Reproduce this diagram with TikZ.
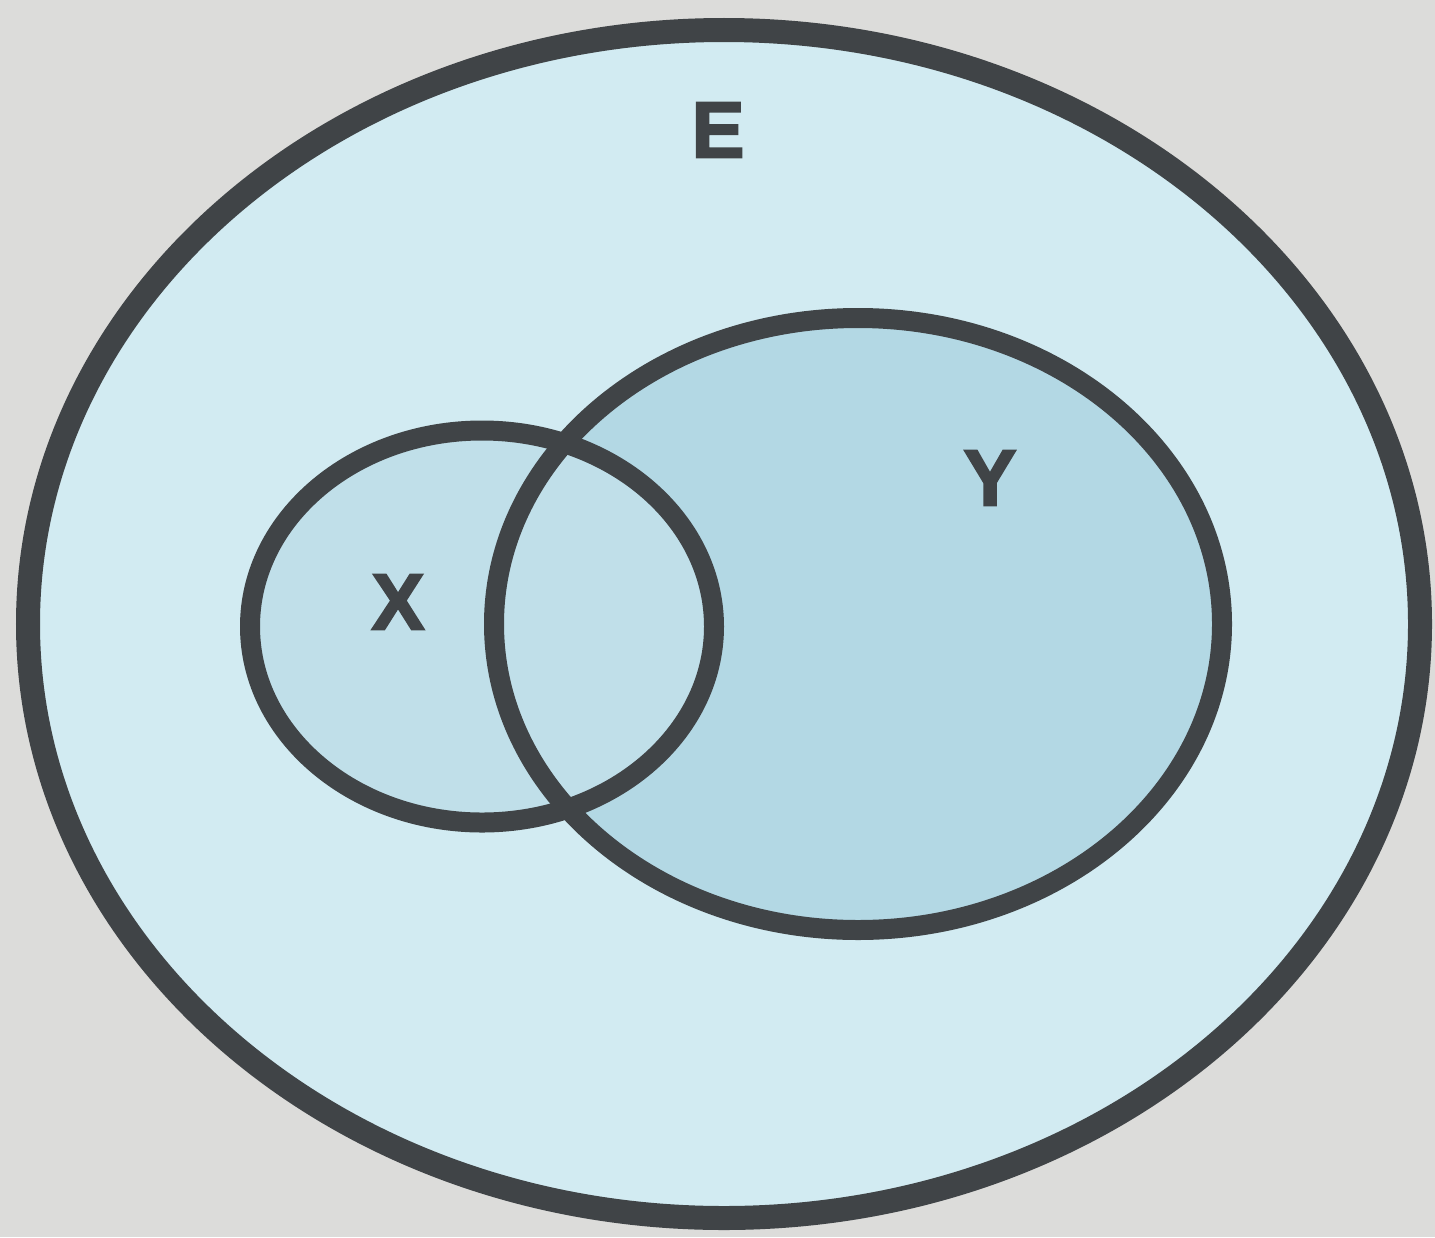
\documentclass[tikz,border=0pt]{standalone}
\usepackage{fontspec}
\setmainfont{Liberation Sans}
\newfontfamily\lblfont[FakeBold=2.5]{Liberation Sans}
\definecolor{paper}{HTML}{DCDCDA}
\definecolor{setE}{HTML}{D2EBF2}
\definecolor{setX}{HTML}{C0DFE9}
\definecolor{setY}{HTML}{B3D8E4}
\definecolor{ink}{HTML}{404447}
\begin{document}
\begin{tikzpicture}[font=\lblfont\fontsize{22.6}{27}\selectfont\bfseries,
  lbl/.style={text=ink, inner sep=0pt},
  rim/.style={draw=ink, line width=0.24cm},
  ring/.style={draw=ink, line width=0.2cm}]
  \useasboundingbox (0,0) rectangle (14.35,12.37);
  \fill[paper] (0,0) rectangle (14.35,12.37);
  % universe E, then X and Y inside it
  \fill[setE] (7.24,6.13) ellipse [x radius=6.96, y radius=5.94];
  \fill[setX] (4.82,6.105) ellipse [x radius=2.32, y radius=1.96];
  \fill[setY] (8.58,6.13) ellipse [x radius=3.64, y radius=3.06];
  \begin{scope}
    \clip (8.58,6.13) ellipse [x radius=3.64, y radius=3.06];
    \fill[setX] (4.82,6.105) ellipse [x radius=2.32, y radius=1.96];
  \end{scope}
  \draw[rim]  (7.24,6.13) ellipse [x radius=6.96, y radius=5.94];
  \draw[ring] (4.82,6.105) ellipse [x radius=2.32, y radius=1.96];
  \draw[ring] (8.58,6.13) ellipse [x radius=3.64, y radius=3.06];
  % labels
  \node[lbl] (labE) at (7.18,11.07) {E};
  \node[lbl] (labX) at (3.98,6.35) {X};
  \node[lbl] (labY) at (9.90,7.59) {Y};
\end{tikzpicture}
\end{document}
